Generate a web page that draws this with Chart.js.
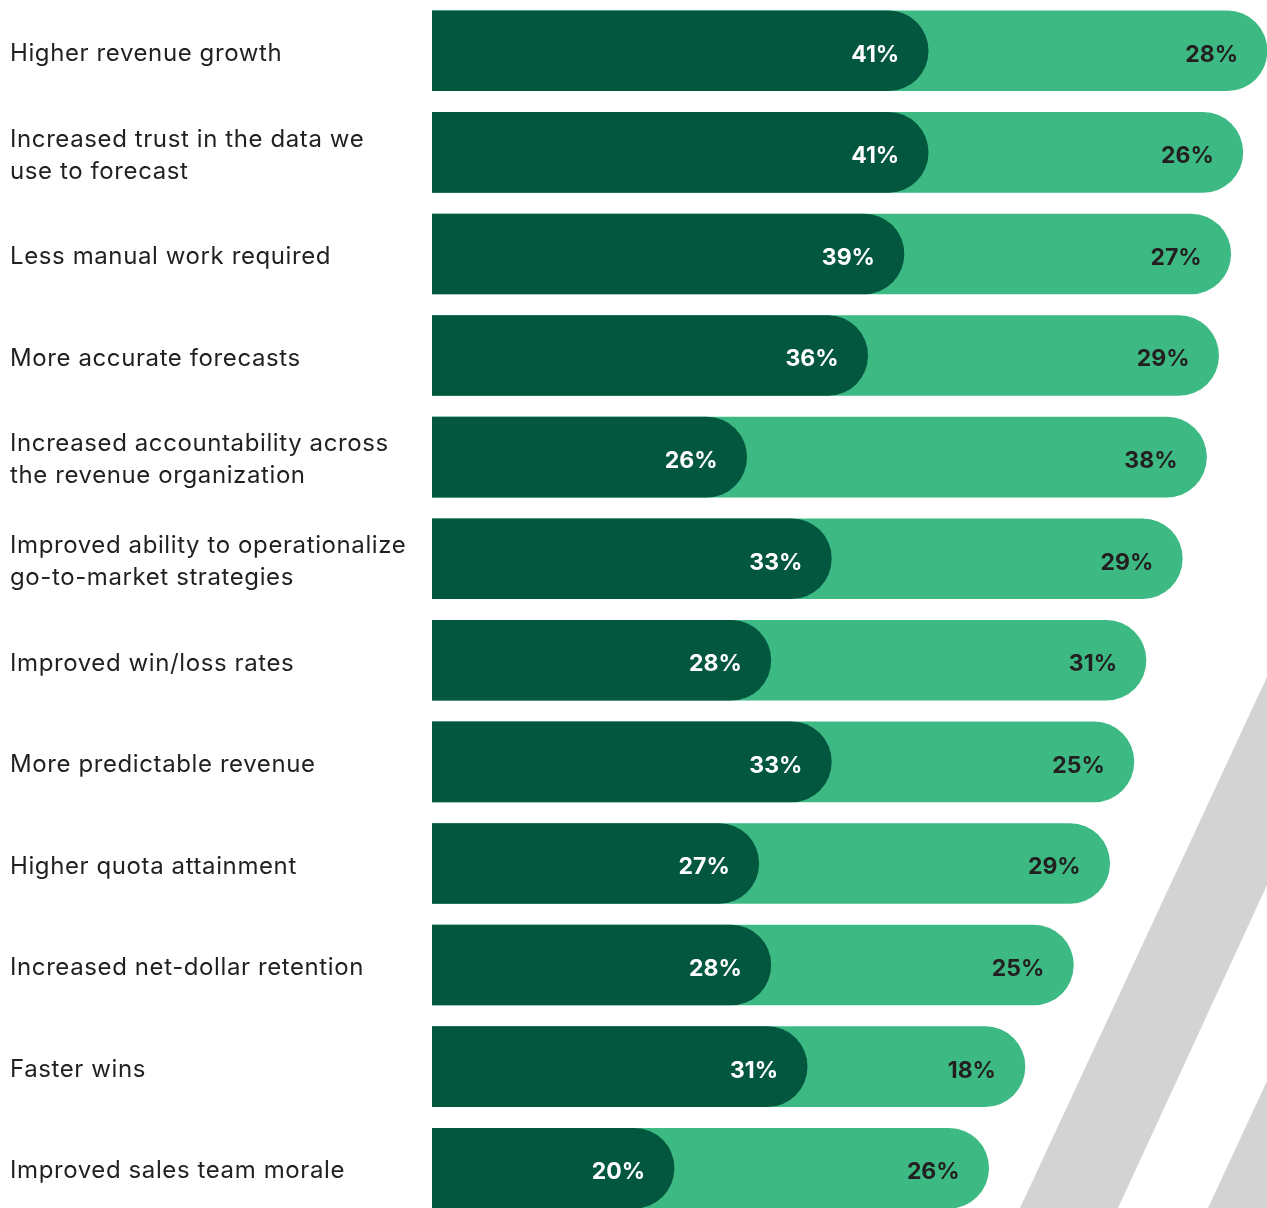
<!DOCTYPE html>
<html lang="en">
<head>
    <meta charset="UTF-8">
    <title>Forecasting benefits</title>
    <script src="https://cdn.jsdelivr.net/npm/chart.js"></script>
    <style>
        html, body { margin: 0; padding: 0; background: #fff; overflow: hidden; }
        #wrap { position: relative; width: 1267px; height: 1219px; }
        #stripes { position: absolute; left: 0; top: 0; }
        #myChart { position: relative; display: block; }
    </style>
</head>
<body>
    <div id="wrap">
        <!-- decorative diagonal bands behind the chart -->
        <svg id="stripes" width="1267" height="1208">
            <polygon points="1020,1208 1267,677 1267,885 1118,1208" fill="#d3d3d3"/>
            <polygon points="1208,1208 1267,1081 1267,1208" fill="#d3d3d3"/>
        </svg>
        <canvas id="myChart"></canvas>
    </div>
    <script>
        const labels = [
            'Higher revenue growth',
            ['Increased trust in the data we', 'use to forecast'],
            'Less manual work required',
            'More accurate forecasts',
            ['Increased accountability across', 'the revenue organization'],
            ['Improved ability to operationalize', 'go-to-market strategies'],
            'Improved win/loss rates',
            'More predictable revenue',
            'Higher quota attainment',
            'Increased net-dollar retention',
            'Faster wins',
            'Improved sales team morale'
        ];
        const darkValues = [41, 41, 39, 36, 26, 33, 28, 33, 27, 28, 31, 20];
        const lightValues = [28, 26, 27, 29, 38, 29, 31, 25, 29, 25, 18, 26];

        const FONT = 'Inter';

        // slightly looser tracking for the category labels, nudged down a little
        const labelTweaks = {
            id: 'labelTweaks',
            afterLayout(chart) {
                chart.scales.y.getLabelItems().forEach(item => { item.textOffset += 3; });
            },
            beforeDraw(chart) {
                chart.ctx.letterSpacing = '0.6px';
            }
        };

        // percentage text just inside the rounded end of each bar
        const valueLabels = {
            id: 'valueLabels',
            afterDatasetsDraw(chart) {
                const ctx = chart.ctx;
                ctx.save();
                ctx.letterSpacing = '0px';
                ctx.font = 'bold 23px ' + FONT;
                ctx.textAlign = 'right';
                ctx.textBaseline = 'middle';
                chart.data.datasets.forEach((ds, di) => {
                    chart.getDatasetMeta(di).data.forEach((bar, i) => {
                        ctx.fillStyle = ds.labelColor;
                        ctx.fillText(ds.shown[i] + '%', bar.x - ds.labelInset, bar.y + 4);
                    });
                });
                ctx.restore();
            }
        };

        const ctx = document.getElementById('myChart').getContext('2d');
        const myChart = new Chart(ctx, {
            type: 'bar',
            data: {
                labels: labels,
                datasets: [
                    {
                        // light bar runs from 0 to the combined total, dark bar sits over it
                        data: lightValues.map((v, i) => v + darkValues[i]),
                        shown: lightValues,
                        backgroundColor: '#3dba84',
                        labelColor: '#231f20',
                        labelInset: 29,
                        order: 2,
                    },
                    {
                        data: darkValues,
                        shown: darkValues,
                        backgroundColor: '#03573f',
                        labelColor: '#ffffff',
                        labelInset: 29,
                        order: 1,
                    },
                ],
            },
            options: {
                indexAxis: 'y',
                responsive: true,
                maintainAspectRatio: false,
                animation: false,
                layout: { padding: { left: 10, right: 0, top: 0, bottom: 0 } },
                datasets: {
                    bar: {
                        grouped: false,
                        barThickness: 80,
                        borderRadius: 40,
                        borderSkipped: 'start',
                    },
                },
                plugins: {
                    legend: { display: false },
                    tooltip: { enabled: false },
                },
                scales: {
                    x: {
                        display: false,
                        min: 0,
                        max: 69,
                    },
                    y: {
                        grid: { display: false },
                        border: { display: false },
                        ticks: {
                            crossAlign: 'far',
                            padding: 0,
                            color: '#231f20',
                            font: { family: FONT, size: 24, lineHeight: 1.33 },
                        },
                        afterFit: (scale) => {
                            scale.width = 422;
                            scale.paddingTop = 0;
                            scale.paddingBottom = 0;
                        },
                    },
                },
            },
            plugins: [labelTweaks, valueLabels],
        });
    </script>
</body>
</html>
